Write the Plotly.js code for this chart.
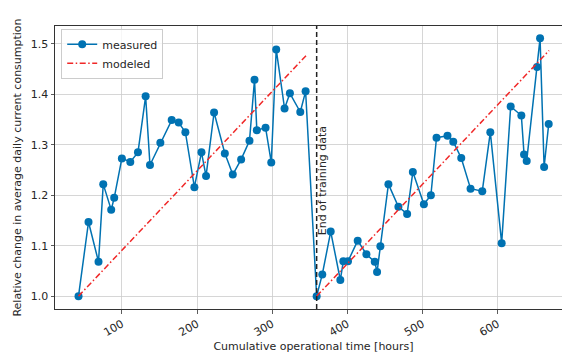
<!DOCTYPE html>
<html>
<head>
<meta charset="utf-8">
<script src="https://cdn.plot.ly/plotly-3.0.1.min.js"></script>
<style>
html, body { margin: 0; padding: 0; overflow: hidden; background: #fff; }
#chart { width: 580px; height: 354px; }
</style>
</head>
<body>
<div id="chart"></div>
<script>
// Measured data: cumulative operational time [hours] and relative change
const measuredHours = [
  42.3, 55.6, 68.9, 75.2, 85.8, 89.8, 100.0, 111.2, 121.4, 131.6,
  137.4, 151.2, 166.3, 175.6, 184.5, 196.5, 205.9, 212.0, 222.7, 237.0,
  247.6, 258.7, 269.8, 276.5, 279.6, 291.2, 298.8, 305.4, 316.5, 323.6,
  337.4, 344.5,
  359.2, 366.7, 377.9, 390.7, 394.7, 400.9, 413.8, 425.4, 436.5, 439.6,
  444.0, 454.7, 468.0, 479.6, 487.2, 501.9, 511.2, 518.7, 533.3, 541.0,
  551.6, 564.0, 579.6, 590.3, 605.4, 617.4, 631.6, 635.2, 638.7, 652.5,
  656.5, 661.9, 668.0
];
const measuredValues = [
  1.000, 1.147, 1.068, 1.222, 1.171, 1.195, 1.273, 1.266, 1.285, 1.396,
  1.260, 1.304, 1.349, 1.344, 1.325, 1.216, 1.285, 1.238, 1.364, 1.283,
  1.241, 1.271, 1.308, 1.429, 1.329, 1.334, 1.265, 1.489, 1.372, 1.402,
  1.365, 1.406,
  1.000, 1.043, 1.128, 1.032, 1.069, 1.069, 1.110, 1.083, 1.068, 1.048,
  1.099, 1.222, 1.177, 1.163, 1.246, 1.182, 1.200, 1.314, 1.318, 1.306,
  1.274, 1.213, 1.208, 1.325, 1.105, 1.376, 1.358, 1.281, 1.268, 1.454,
  1.511, 1.256, 1.341
];
// Modeled (linear) segments: training and test period
const modeledHours = [42.3, 345.9, null, 359.2, 668.5];
const modeledValues = [1.000, 1.478, null, 1.000, 1.487];
// End of training data marker
const endOfTraining = 359.2;
const xTicks = [100, 200, 300, 400, 500, 600];
const yTicks = [1.0, 1.1, 1.2, 1.3, 1.4, 1.5];

const font = {family: 'DejaVu Sans, sans-serif', size: 11, color: '#262626'};

const traces = [
  {
    x: measuredHours, y: measuredValues, name: 'measured',
    type: 'scatter', mode: 'lines+markers',
    line: {color: '#0072B2', width: 1.5},
    marker: {color: '#0072B2', size: 8}
  },
  {
    x: modeledHours, y: modeledValues, name: 'modeled',
    type: 'scatter', mode: 'lines', connectgaps: false,
    line: {color: '#f02828', width: 1.5, dash: '6px,2.5px,1.5px,2.5px'}
  }
];

const layout = {
  width: 580, height: 354,
  margin: {l: 55, r: 8, t: 26, b: 45},
  paper_bgcolor: '#ffffff', plot_bgcolor: '#ffffff',
  font: font,
  showlegend: true,
  legend: {
    x: 0.012, y: 0.99, xanchor: 'left', yanchor: 'top',
    bgcolor: 'rgba(255,255,255,0.8)', bordercolor: '#cccccc', borderwidth: 1,
    font: {family: 'DejaVu Sans, sans-serif', size: 11, color: '#262626'},
    tracegroupgap: 0
  },
  xaxis: {
    range: [11, 699],
    tickvals: xTicks, ticktext: xTicks.map(String),
    tickangle: -30,
    ticks: 'outside', ticklen: 3.5, tickwidth: 0.8, tickcolor: '#333333',
    showgrid: true, gridcolor: '#cccccc', gridwidth: 0.8,
    showline: true, linecolor: '#333333', linewidth: 1, mirror: true,
    zeroline: false,
    title: {text: 'Cumulative operational time [hours]', font: font, standoff: 4},
    tickfont: font
  },
  yaxis: {
    range: [0.9745, 1.5355],
    tickvals: yTicks, ticktext: yTicks.map(v => v.toFixed(1)),
    ticks: 'outside', ticklen: 3.5, tickwidth: 0.8, tickcolor: '#333333',
    showgrid: true, gridcolor: '#cccccc', gridwidth: 0.8,
    showline: true, linecolor: '#333333', linewidth: 1, mirror: true,
    zeroline: false,
    title: {text: 'Relative change in average daily current consumption', font: font, standoff: 6},
    tickfont: font
  },
  shapes: [{
    type: 'line', xref: 'x', yref: 'paper',
    x0: endOfTraining, x1: endOfTraining, y0: 0, y1: 1,
    line: {color: '#222222', width: 1.5, dash: '5px,3px'}
  }],
  annotations: [{
    x: endOfTraining, y: 1.229, xref: 'x', yref: 'y',
    text: 'End of training data', showarrow: false,
    textangle: -90, xanchor: 'center', yanchor: 'middle', xshift: 6,
    font: font
  }]
};

Plotly.newPlot('chart', traces, layout, {displayModeBar: false, staticPlot: true});
</script>
</body>
</html>
